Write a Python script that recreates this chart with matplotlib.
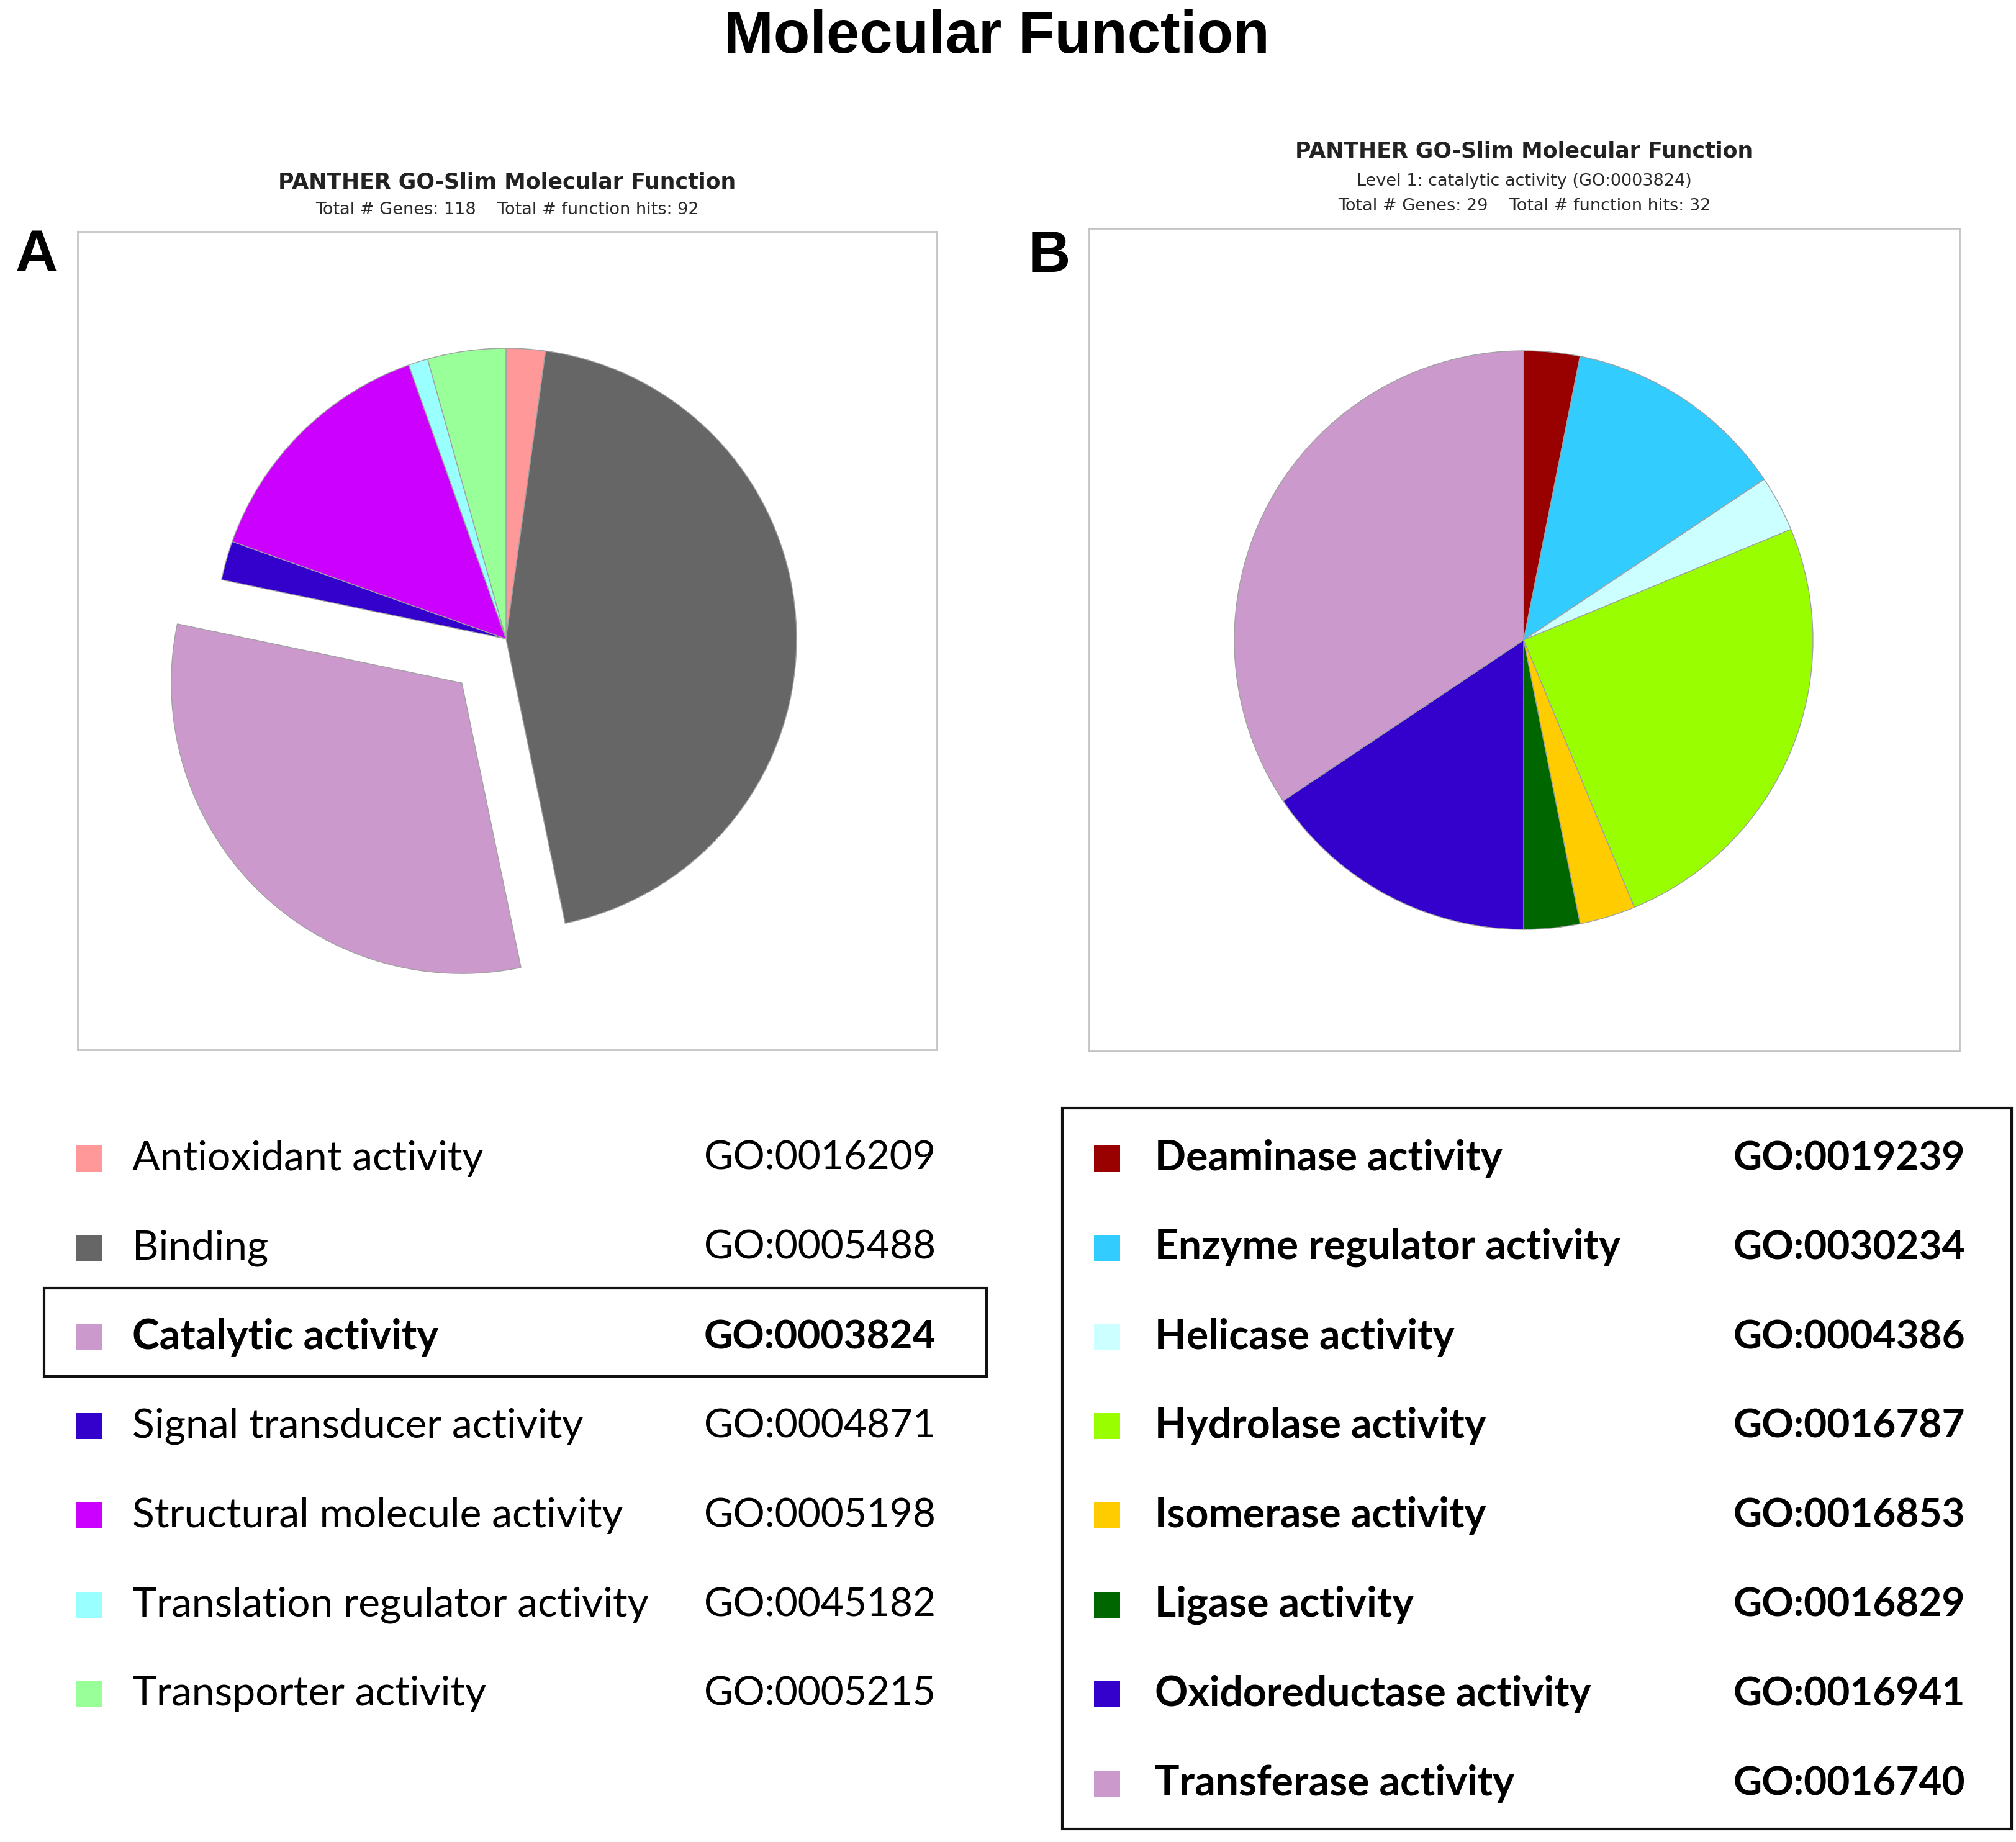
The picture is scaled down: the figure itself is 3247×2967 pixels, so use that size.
import matplotlib
matplotlib.use('Agg')
import matplotlib.pyplot as plt
from matplotlib.patches import Rectangle

# --- 数据 ---
a_labels = ['Antioxidant activity', 'Binding', 'Catalytic activity', 'Signal transducer activity',
            'Structural molecule activity', 'Translation regulator activity', 'Transporter activity']
a_go = ['GO:0016209', 'GO:0005488', 'GO:0003824', 'GO:0004871',
        'GO:0005198', 'GO:0045182', 'GO:0005215']
a_hits = [2, 41, 29, 2, 13, 1, 4]
a_colors = ['#FF9999', '#666666', '#CC99CC', '#3300CC', '#CC00FF', '#99FFFF', '#99FF99']

b_labels = ['Deaminase activity', 'Enzyme regulator activity', 'Helicase activity', 'Hydrolase activity',
            'Isomerase activity', 'Ligase activity', 'Oxidoreductase activity', 'Transferase activity']
b_go = ['GO:0019239', 'GO:0030234', 'GO:0004386', 'GO:0016787',
        'GO:0016853', 'GO:0016829', 'GO:0016941', 'GO:0016740']
b_hits = [1, 4, 1, 8, 1, 1, 5, 11]
b_colors = ['#990000', '#33CCFF', '#CCFFFF', '#99FF00', '#FFCC00', '#006600', '#3300CC', '#CC99CC']

a_title = 'PANTHER GO-Slim Molecular Function'
a_sub = ['Total # Genes: 118    Total # function hits: 92']
b_sub = ['Level 1: catalytic activity (GO:0003824)', 'Total # Genes: 29    Total # function hits: 32']

# --- 画布 (像素坐标) ---
W, H = 3247, 2967
fig = plt.figure(figsize=(W / 100, H / 100), dpi=100)
bg = fig.add_axes([0, 0, 1, 1])
bg.set_xlim(0, W)
bg.set_ylim(H, 0)
bg.axis('off')

LEG_FONT = ['Lato', 'DejaVu Sans']
TITLE_FONT = ['Liberation Sans', 'DejaVu Sans']


def pie_panel(frame, center, radius, hits, colors, explode=None):
    x0, y0, x1, y1 = frame
    ax = fig.add_axes([x0 / W, 1 - y1 / H, (x1 - x0) / W, (y1 - y0) / H])
    # explode 在 matplotlib 中是数据单位, 这里按半径比例换算
    if explode is not None:
        explode = [e * radius for e in explode]
    ax.pie(hits, colors=colors, startangle=90, counterclock=False,
           center=(center[0], H - center[1]), radius=radius, explode=explode, frame=True,
           wedgeprops=dict(edgecolor='#a0a0a0', linewidth=1.0))
    ax.set_xlim(x0, x1)
    ax.set_ylim(H - y1, H - y0)
    ax.set_xticks([])
    ax.set_yticks([])
    for s in ax.spines.values():
        s.set_color('#c4c4c4')
        s.set_linewidth(2.0)
    return ax


# 主标题
bg.text(1605, 60, 'Molecular Function', ha='center', va='center', fontsize=69,
        fontweight='bold', family=TITLE_FONT)

# --- 面板 A ---
a_explode = [0.215 if lab == 'Catalytic activity' else 0 for lab in a_labels]
pie_panel((125, 373, 1509, 1691), (815, 1029), 468, a_hits, a_colors, a_explode)
bg.text(817, 294, a_title, ha='center', va='center', fontsize=25, fontweight='bold',
        family='DejaVu Sans', color='#222222')
bg.text(817, 338, a_sub[0], ha='center', va='center', fontsize=19.5,
        family='DejaVu Sans', color='#2a2a2a')
bg.text(59, 413, 'A', ha='center', va='center', fontsize=68, fontweight='bold', family=TITLE_FONT)

# --- 面板 B ---
pie_panel((1754, 368, 3156, 1693), (2454, 1031), 466, b_hits, b_colors)
bg.text(2455, 243, a_title, ha='center', va='center', fontsize=25, fontweight='bold',
        family='DejaVu Sans', color='#222222')
bg.text(2455, 292, b_sub[0], ha='center', va='center', fontsize=19.5,
        family='DejaVu Sans', color='#2a2a2a')
bg.text(2455, 332, b_sub[1], ha='center', va='center', fontsize=19.5,
        family='DejaVu Sans', color='#2a2a2a')
bg.text(1690, 413, 'B', ha='center', va='center', fontsize=68, fontweight='bold', family=TITLE_FONT)

# --- 图例 ---
row0, step = 1866, 143.8
msz = 42

for i, (lab, go, c) in enumerate(zip(a_labels, a_go, a_colors)):
    y = row0 + i * step
    bold = 'bold' if lab == 'Catalytic activity' else 'normal'
    bg.add_patch(Rectangle((143 - msz / 2, y - msz / 2), msz, msz, facecolor=c, edgecolor='none'))
    bg.text(213, y, lab, ha='left', va='center', fontsize=47.5, fontweight=bold, family=LEG_FONT)
    bg.text(1507, y, go, ha='right', va='center', fontsize=46, fontweight=bold, family=LEG_FONT)
    if lab == 'Catalytic activity':
        bg.add_patch(Rectangle((71, y - 79), 1518, 142, facecolor='none',
                               edgecolor='#111111', linewidth=3))

for i, (lab, go, c) in enumerate(zip(b_labels, b_go, b_colors)):
    y = row0 + i * step
    bg.add_patch(Rectangle((1783 - msz / 2, y - msz / 2), msz, msz, facecolor=c, edgecolor='none'))
    bg.text(1860, y, lab, ha='left', va='center', fontsize=47.5, fontweight='bold', family=LEG_FONT)
    bg.text(3165, y, go, ha='right', va='center', fontsize=46, fontweight='bold', family=LEG_FONT)

bg.add_patch(Rectangle((1711, 1785), 1529, 1161, facecolor='none', edgecolor='#111111', linewidth=3))

plt.savefig('out.png', dpi=100)
